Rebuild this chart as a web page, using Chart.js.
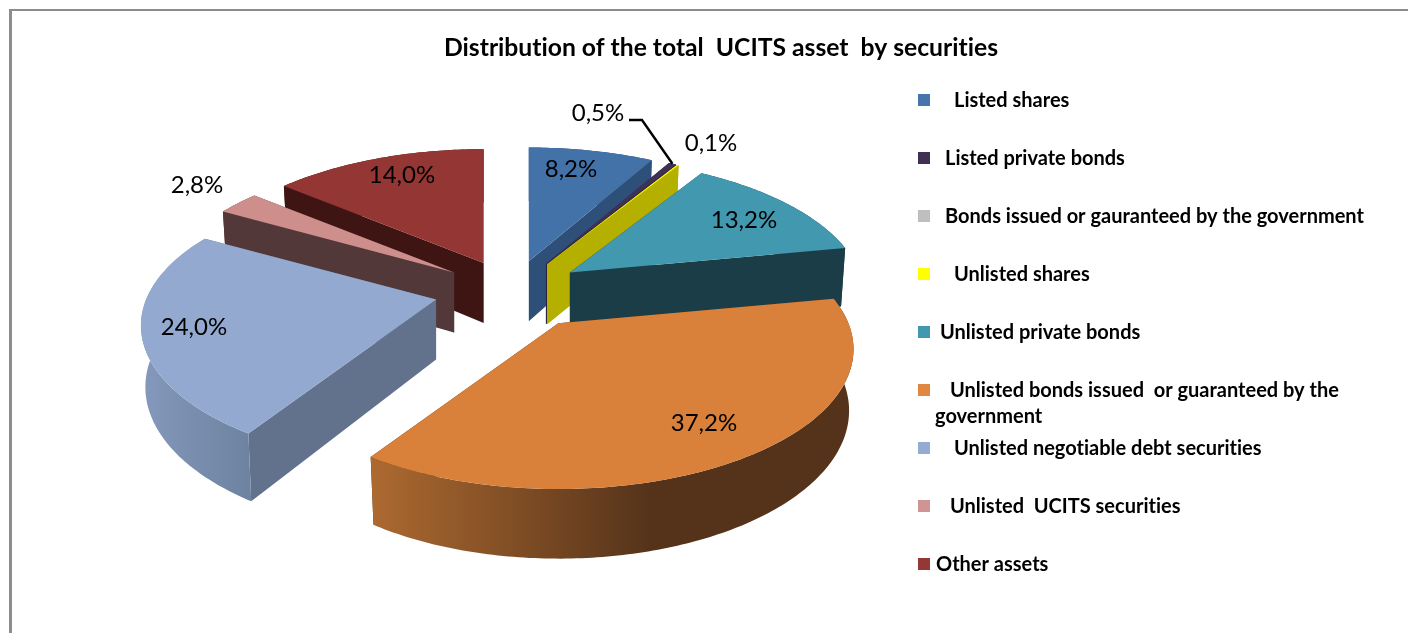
<!DOCTYPE html>
<html>
<head>
<meta charset="utf-8">
<title>Distribution of the total UCITS asset by securities</title>
<script src="https://cdn.jsdelivr.net/npm/chart.js@4"></script>
<style>
    html, body { margin: 0; padding: 0; background: #fff; overflow: hidden; }
    #wrap { position: relative; width: 1408px; height: 633px; overflow: hidden; }
    #frame { position: absolute; left: 9px; top: 9px; right: -4px; bottom: -4px; border-left: 3px solid #8c8c8c; border-top: 2px solid #8c8c8c; }
    canvas { position: relative; display: block; }
</style>
</head>
<body>
<div id="wrap">
    <div id="frame"></div>
    <canvas id="pieChart" width="1408" height="633"></canvas>
</div>
<script>
// --- DATA ---

const categories = [
    'Listed shares',
    'Listed private bonds',
    'Bonds issued or gauranteed by the government',
    'Unlisted shares',
    'Unlisted private bonds',
    'Unlisted bonds issued  or guaranteed by the',
    'Unlisted negotiable debt securities',
    'Unlisted  UCITS securities',
    'Other assets'
];
const shares = [8.2, 0.5, 0, 0.1, 13.2, 37.2, 24.0, 2.8, 14.0];

const topColors = ['#4372a8', '#3f3156', '#bfbfbf', '#ffff00', '#4198af', '#d9803a', '#93a9cf', '#cd8e8c', '#943634'];
const faceColors = ['#2e5078', '#2c2240', '#888888', '#b5b000', '#1b3d47', '#55331a', '#63728c', '#523838', '#3f1514'];
const legendColors = ['#4674ac', '#403152', '#bfbfbf', '#ffff00', '#4198af', '#e0883f', '#95abd4', '#d09593', '#953735'];

// --- VIEW OF THE TILTED PIE ---

const CENTER_X = 512;
const CENTER_Y = 291;
const RADIUS_X = 290;
const RADIUS_Y = 135;
const PERSPECTIVE = 0.186;
const EXPLODE = 0.268;
const DEPTH = 60;
const FONT = 'Lato, "Open Sans", sans-serif';

function perspectiveAt(sinA) {
    return 1 / (1 - PERSPECTIVE * sinA);
}

// Pulled-out corner of a slice, from the arc element's middle angle
function sliceApex(arc) {
    const mid = (arc.startAngle + arc.endAngle) / 2;
    const sinMid = Math.sin(mid);
    const s = sinMid < 0 ? perspectiveAt(sinMid) : Math.sqrt(perspectiveAt(sinMid * sinMid));
    return {
        x: CENTER_X + Math.cos(mid) * EXPLODE * RADIUS_X * s,
        y: CENTER_Y + sinMid * EXPLODE * RADIUS_Y * s
    };
}

function rimPoint(apex, angle) {
    const s = perspectiveAt(Math.sin(angle));
    return {
        x: apex.x + Math.cos(angle) * RADIUS_X * s,
        y: apex.y + Math.sin(angle) * RADIUS_Y * s,
        s: s
    };
}

function dropPoint(apex, p) {
    return {
        x: apex.x + (p.x - apex.x) * 0.985,
        y: p.y + DEPTH * (1 + (p.s - 1) * 0.7)
    };
}

function fillPath(ctx, points, fill) {
    ctx.beginPath();
    points.forEach((p, i) => {
        if (i === 0) ctx.moveTo(p.x, p.y);
        else ctx.lineTo(p.x, p.y);
    });
    ctx.closePath();
    ctx.fillStyle = fill;
    ctx.fill();
}

function wallFill(ctx, index) {
    // Only the two big front slices show a shaded outer wall
    if (index === 5) {
        const g = ctx.createLinearGradient(370, 0, 650, 0);
        g.addColorStop(0, '#ad6a30');
        g.addColorStop(1, '#55331a');
        return g;
    }
    if (index === 6) {
        const g = ctx.createLinearGradient(140, 0, 255, 0);
        g.addColorStop(0, '#8499bc');
        g.addColorStop(1, '#6d829f');
        return g;
    }
    return faceColors[index];
}

function drawSlice(ctx, arc, index) {
    const apex = sliceApex(arc);
    const rim = [];
    const steps = Math.max(2, Math.ceil((arc.endAngle - arc.startAngle) / 0.015));
    for (let i = 0; i <= steps; i++) {
        rim.push(rimPoint(apex, arc.startAngle + (arc.endAngle - arc.startAngle) * i / steps));
    }
    const drop = rim.map(p => dropPoint(apex, p));
    const apexDrop = { x: apex.x, y: apex.y + DEPTH };

    // cut faces first, then the outer wall, then the top on the very end
    [[rim[0], drop[0]], [rim[steps], drop[steps]]].forEach(edge => {
        fillPath(ctx, [apex, edge[0], edge[1], apexDrop], faceColors[index]);
    });
    fillPath(ctx, rim.concat(drop.slice().reverse()), wallFill(ctx, index));
    fillPath(ctx, [apex].concat(rim), topColors[index]);
}

const pie3dPlugin = {
    id: 'pie3d',
    afterLayout(chart) {
        // title sits a bit right of the page middle
        chart.titleBlock.left += 17;
        chart.titleBlock.right += 17;
    },
    beforeDraw(chart) {
        // no "ti" ligatures, same as the original text
        chart.ctx.textRendering = 'optimizeSpeed';
    },
    beforeDatasetDraw(chart, args) {
        const ctx = chart.ctx;
        const arcs = chart.getDatasetMeta(args.index).data
            .map((arc, i) => ({ arc: arc, i: i }))
            .filter(item => shares[item.i] > 0);

        // back slices first
        arcs.sort((a, b) => Math.sin((a.arc.startAngle + a.arc.endAngle) / 2) - Math.sin((b.arc.startAngle + b.arc.endAngle) / 2));
        ctx.save();
        arcs.forEach(item => drawSlice(ctx, item.arc, item.i));
        ctx.restore();

        drawValueLabels(ctx, chart.getDatasetMeta(args.index).data);
        drawLegend(ctx);
        return false;
    }
};

// --- LABELS AND LEGEND ---

const valueLabelSpots = [[571, 169], [598, 113], null, [711, 143], [744, 220], [704, 423], [194, 327], [197, 185], [402, 175]];
const legendTextX = [954, 945, 945, 954, 940, 950, 954, 950, 936];
const LEGEND_SWATCH_X = 918;
const LEGEND_TOP = 100;
const LEGEND_STEP = 58;

function drawValueLabels(ctx, arcs) {
    // leader line of the 0,5% slice
    const purple = arcs[1];
    const tip = rimPoint(sliceApex(purple), (purple.startAngle + purple.endAngle) / 2);
    ctx.strokeStyle = '#000';
    ctx.lineWidth = 2.4;
    ctx.beginPath();
    ctx.moveTo(629, 120);
    ctx.lineTo(642, 120);
    ctx.lineTo(tip.x, tip.y);
    ctx.stroke();

    ctx.fillStyle = '#000';
    ctx.font = '24px ' + FONT;
    ctx.textAlign = 'center';
    ctx.textBaseline = 'middle';
    shares.forEach((v, i) => {
        if (!valueLabelSpots[i]) return;
        ctx.fillText(v.toFixed(1).replace('.', ',') + '%', valueLabelSpots[i][0], valueLabelSpots[i][1]);
    });
}

function drawLegend(ctx) {
    ctx.font = 'bold 20px ' + FONT;
    ctx.textAlign = 'left';
    ctx.textBaseline = 'middle';
    categories.forEach((name, i) => {
        const y = LEGEND_TOP + LEGEND_STEP * i;
        ctx.fillStyle = legendColors[i];
        ctx.fillRect(LEGEND_SWATCH_X, y - 6, 12, 12);
        ctx.fillStyle = '#000';
        ctx.fillText(name, legendTextX[i], y + 1);
    });
    ctx.fillText('government', 935, LEGEND_TOP + LEGEND_STEP * 5 + 27);
}

// --- CHART ---

new Chart(document.getElementById('pieChart'), {
    type: 'pie',
    data: {
        labels: categories,
        datasets: [{
            data: shares,
            backgroundColor: topColors
        }]
    },
    options: {
        responsive: false,
        animation: false,
        devicePixelRatio: 1,
        plugins: {
            legend: { display: false },
            tooltip: { enabled: false },
            title: {
                display: true,
                text: 'Distribution of the total  UCITS asset  by securities',
                color: '#000',
                font: { family: FONT, size: 24.7, weight: 'bold' },
                padding: { top: 33, bottom: 10 }
            }
        }
    },
    plugins: [pie3dPlugin]
});
</script>
</body>
</html>
